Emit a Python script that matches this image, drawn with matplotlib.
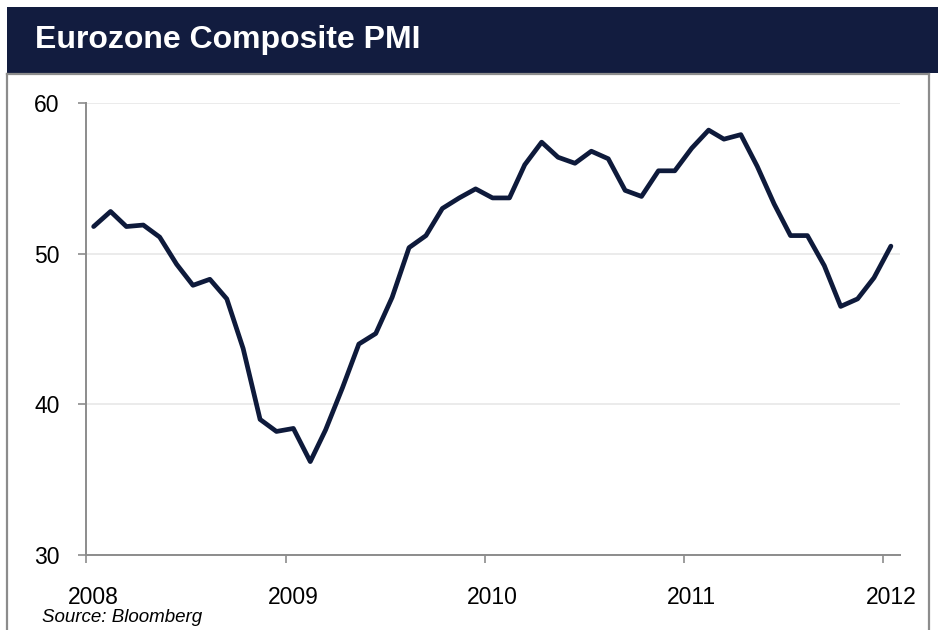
import matplotlib
matplotlib.use('Agg')
import matplotlib.pyplot as plt
import matplotlib.patches as patches
import matplotlib.lines as lines
import matplotlib.dates as mdates
import pandas as pd

plt.rcParams['font.family'] = ['Liberation Sans', 'DejaVu Sans']

# Monthly composite PMI, Jan 2008 - Jan 2012
pmi_2008 = [51.8, 52.8, 51.8, 51.9, 51.1, 49.3, 47.9, 48.3, 47.0, 43.7, 39.0, 38.2]
pmi_2009 = [38.4, 36.2, 38.3, 41.1, 44.0, 44.7, 47.1, 50.4, 51.2, 53.0, 53.7, 54.3]
pmi_2010 = [53.7, 53.7, 55.9, 57.4, 56.4, 56.0, 56.8, 56.3, 54.2, 53.8, 55.5, 55.5]
pmi_2011 = [57.0, 58.2, 57.6, 57.9, 55.8, 53.3, 51.2, 51.2, 49.2, 46.5, 47.0, 48.4]
pmi_2012 = [50.5]
pmi = pmi_2008 + pmi_2009 + pmi_2010 + pmi_2011 + pmi_2012

# mid-month dates
months = pd.date_range('2008-01-01', periods=len(pmi), freq='MS') + pd.Timedelta(days=14)
year_labels = ['2008', '2009', '2010', '2011', '2012']
y_ticks = [30, 40, 50, 60]

navy = '#121c3f'
line_col = '#0e1a3b'
frame_col = '#8c8c8c'

W, H = 938, 630
fig = plt.figure(figsize=(W / 100, H / 100), dpi=100)
fig.patch.set_facecolor('white')

# title bar
fig.patches.append(patches.Rectangle((7 / W, 1 - 73 / H), 1 - 7 / W, 66 / H,
                                     transform=fig.transFigure, facecolor=navy,
                                     edgecolor='none', zorder=0))
fig.text(35 / W, 1 - 40 / H, 'Eurozone Composite PMI', color='white',
         fontsize=23, fontweight='bold', va='center', ha='left')

# outer frame lines
for xs, ys in [([7, 7], [74, 630]), ([929, 929], [74, 630]), ([7, 929], [74, 74])]:
    fig.add_artist(lines.Line2D([x / W for x in xs], [1 - y / H for y in ys],
                                transform=fig.transFigure, color=frame_col, lw=1.6))

ax = fig.add_axes([86 / W, 1 - 555 / H, (900 - 86) / W, (555 - 103) / H])
ax.plot(months, pmi, color=line_col, lw=3.4, solid_joinstyle='round',
        solid_capstyle='round', clip_on=False, zorder=3)

ax.set_ylim(30, 60)
ax.set_yticks(y_ticks)
x0 = mdates.date2num(pd.Timestamp('2008-01-01'))
ax.set_xlim(x0, x0 + 4.084 * 365.25)

# year ticks at Jan 1, labels centred on the January point
ax.set_xticks([pd.Timestamp(y + '-01-01') for y in year_labels])
ax.set_xticklabels([])
ax.set_xticks([pd.Timestamp(y + '-01-15') for y in year_labels], minor=True)
ax.set_xticklabels(year_labels, minor=True)
ax.tick_params(axis='x', which='major', direction='out', length=6, width=1.2, color=frame_col)
ax.tick_params(axis='x', which='minor', length=0, pad=22, labelsize=16.5)
ax.tick_params(axis='y', direction='out', length=6, width=1.2, color=frame_col,
               pad=13, labelsize=16.5)

ax.grid(axis='y', color='#e8e8e8', lw=1.2, zorder=0)
for s in ['top', 'right']:
    ax.spines[s].set_visible(False)
for s in ['left', 'bottom']:
    ax.spines[s].set_color(frame_col)
    ax.spines[s].set_linewidth(1.4)
ax.set_axisbelow(True)

fig.text(42 / W, 1 - 617 / H, 'Source: Bloomberg', fontsize=13.5, style='italic',
         va='center', ha='left')

fig.savefig('out.png', dpi=100, facecolor='white')
